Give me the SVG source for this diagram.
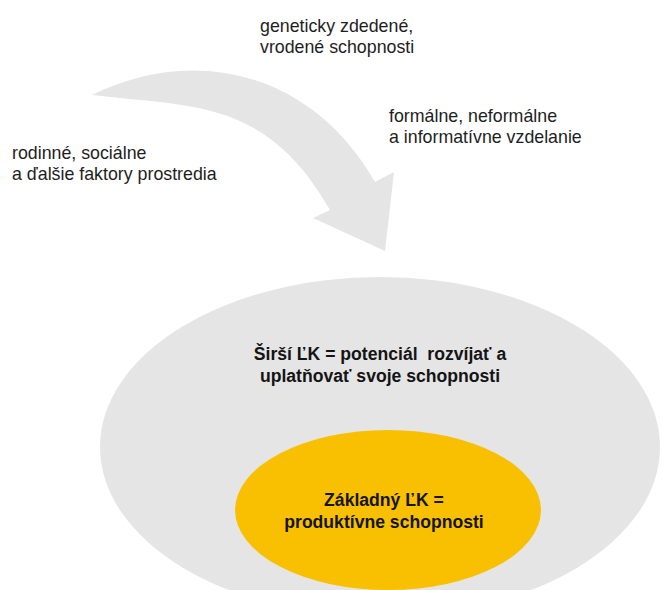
<svg xmlns="http://www.w3.org/2000/svg" width="663" height="590" viewBox="0 0 663 590">
<style>
.lbl{font-family:"Liberation Sans",Arial,Helvetica,sans-serif;font-size:17.8px;fill:#1e1e1e}
.bold{font-family:"Liberation Sans",Arial,Helvetica,sans-serif;font-size:17.6px;font-weight:bold;fill:#141414;text-anchor:middle;white-space:pre}
.grey{fill:#e5e5e5}
.yellow{fill:#f8c000}
</style>
<rect width="663" height="590" fill="#ffffff"/>
<g id="connectors">
<path id="curved-arrow" class="grey" d="M 92 95 C 192 45, 311 70, 375 182 L 394 172 L 385 251 L 313 218 L 330 210 C 266 98, 192 107, 92 95 Z"/>
</g>
<g id="node-sirsi">
<ellipse class="grey" cx="380" cy="447" rx="280" ry="170"/>
<text class="bold" x="380" y="360" xml:space="preserve">Širší ĽK = potenciál  rozvíjať a</text>
<text class="bold" x="380" y="382">uplatňovať svoje schopnosti</text>
</g>
<g id="node-zakladny">
<ellipse class="yellow" cx="388" cy="510" rx="153" ry="80"/>
<text class="bold" x="384" y="506">Základný ĽK =</text>
<text class="bold" x="384" y="528">produktívne schopnosti</text>
</g>
<g id="label-geneticky">
<text class="lbl" x="260" y="32">geneticky zdedené,</text>
<text class="lbl" x="260" y="53">vrodené schopnosti</text>
</g>
<g id="label-formalne">
<text class="lbl" x="389" y="122">formálne, neformálne</text>
<text class="lbl" x="389" y="143">a informatívne vzdelanie</text>
</g>
<g id="label-rodinne">
<text class="lbl" x="12" y="159">rodinné, sociálne</text>
<text class="lbl" x="12" y="180">a ďalšie faktory prostredia</text>
</g>
</svg>
